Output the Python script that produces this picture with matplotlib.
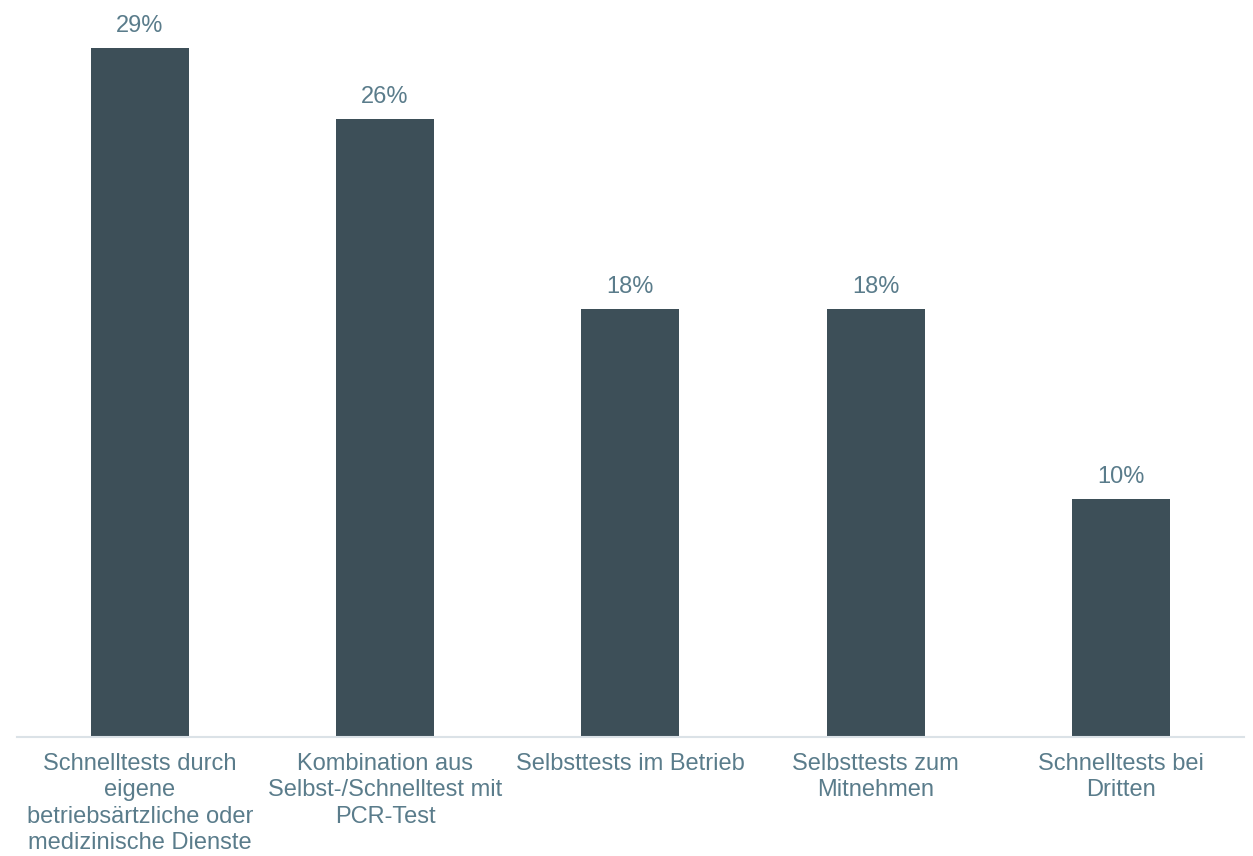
import matplotlib
matplotlib.use("Agg")
import matplotlib.pyplot as plt

categories = [
    "Schnelltests durch\neigene\nbetriebsärtzliche oder\nmedizinische Dienste",
    "Kombination aus\nSelbst-/Schnelltest mit\nPCR-Test",
    "Selbsttests im Betrieb",
    "Selbsttests zum\nMitnehmen",
    "Schnelltests bei\nDritten",
]
values = [29, 26, 18, 18, 10]
value_labels = ["29%", "26%", "18%", "18%", "10%"]

bar_color = "#3d4f58"
text_color = "#5a7c8b"
axis_color = "#dbe2e7"

plt.rcParams["font.family"] = ["Liberation Sans", "DejaVu Sans"]

fig = plt.figure(figsize=(12.53, 8.56), dpi=100)
ax = fig.add_axes([0.0136, 0.139, 0.979, 0.861])

x = list(range(len(categories)))
bars = ax.bar(x, values, width=0.4, color=bar_color, zorder=2)

for rect, lab in zip(bars, value_labels):
    ax.annotate(lab, (rect.get_x() + rect.get_width() / 2, rect.get_height()),
                xytext=(0, 11.5), textcoords="offset points",
                ha="center", va="baseline", fontsize=17, color=text_color)

ax.set_xlim(-0.5, len(categories) - 0.5)
ax.set_ylim(0, 31.0)
ax.set_xticks(x)
ax.set_xticklabels(categories, fontsize=17, color=text_color, linespacing=1.26)
ax.tick_params(axis="x", length=0, pad=11.5)
ax.set_yticks([])

for side in ("top", "left", "right"):
    ax.spines[side].set_visible(False)
ax.spines["bottom"].set_color(axis_color)
ax.spines["bottom"].set_linewidth(1.5)

fig.savefig("out.png", dpi=100)
